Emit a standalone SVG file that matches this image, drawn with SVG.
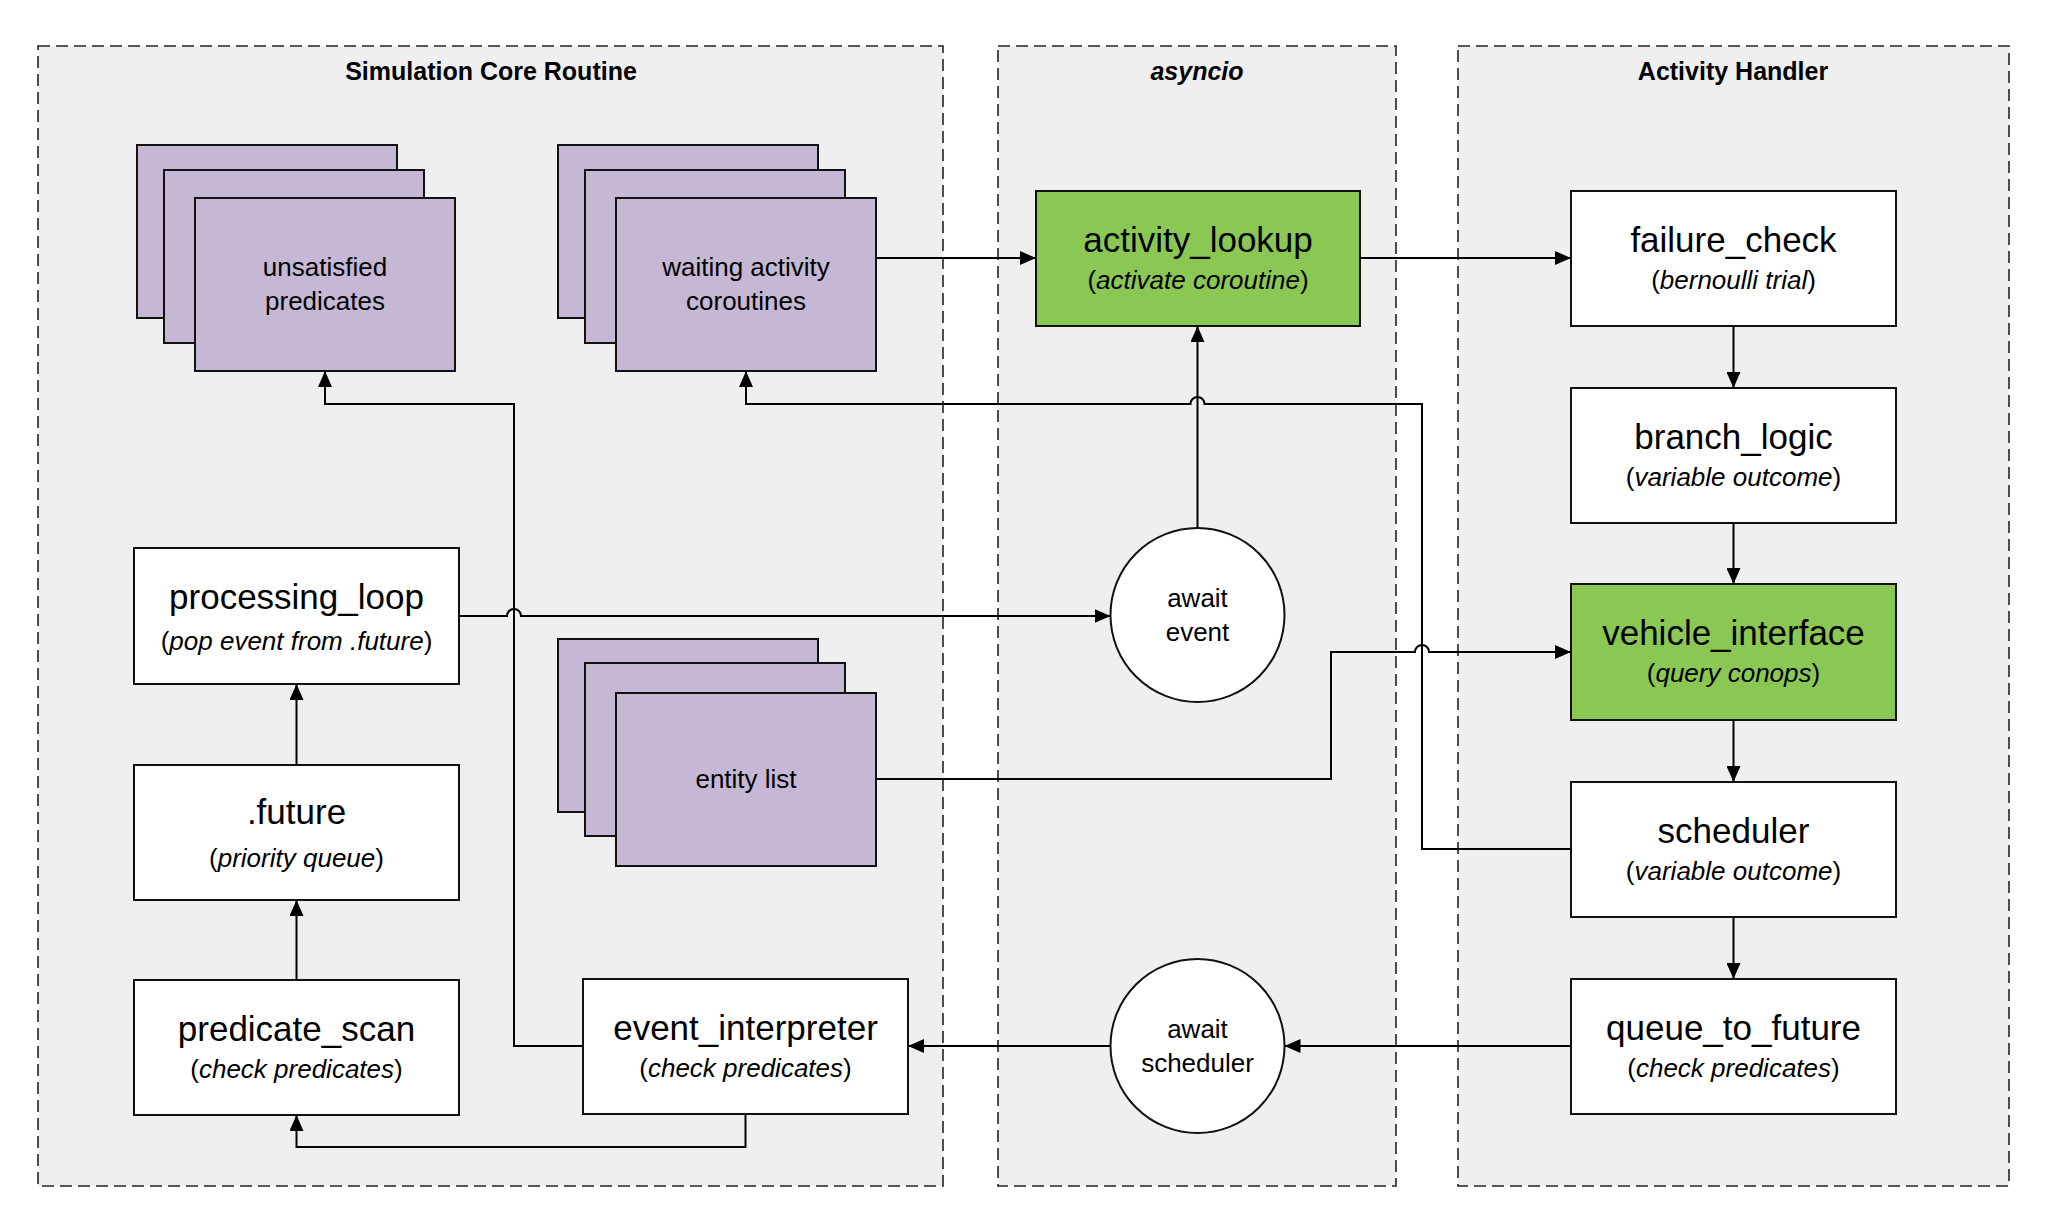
<svg xmlns="http://www.w3.org/2000/svg" width="2050" height="1226" viewBox="0 0 2050 1226">
<defs>
<style>
.cont{fill:#efefef;stroke:#222;stroke-width:1.6;stroke-dasharray:12 6}
.ctitle{font-family:"Liberation Sans",Arial,sans-serif;font-size:25px;font-weight:bold;text-anchor:middle;fill:#000}
.box{fill:#fff;stroke:#111;stroke-width:2}
.green{fill:#8bc853;stroke:#111;stroke-width:2}
.purple{fill:#c5b8d4;stroke:#111;stroke-width:2}
.circ{fill:#fff;stroke:#111;stroke-width:2}
.t1{font-family:"Liberation Sans",Arial,sans-serif;font-size:35px;text-anchor:middle;fill:#000}
.t2{font-family:"Liberation Sans",Arial,sans-serif;font-size:26px;text-anchor:middle;fill:#000}
.it{font-style:italic}
.conn path{fill:none;stroke:#000;stroke-width:2}
</style>
<marker id="arr" markerUnits="userSpaceOnUse" markerWidth="16" markerHeight="14" refX="16" refY="7" orient="auto">
<path d="M0,0 L16,7 L0,14 z" fill="#000"/>
</marker>
</defs>
<rect width="2050" height="1226" fill="#fff"/>

<g id="containers">
<g id="sim-core">
<rect class="cont" x="38" y="46" width="905" height="1140"/>
<text class="ctitle" x="491" y="80">Simulation Core Routine</text>
</g>
<g id="asyncio">
<rect class="cont" x="998" y="46" width="398" height="1140"/>
<text class="ctitle" x="1197" y="80" font-style="italic">asyncio</text>
</g>
<g id="activity-handler">
<rect class="cont" x="1458" y="46" width="551" height="1140"/>
<text class="ctitle" x="1733" y="80">Activity Handler</text>
</g>
</g>

<g id="unsatisfied_predicates">
<rect class="purple" x="137" y="145" width="260" height="173"/>
<rect class="purple" x="164" y="170" width="260" height="173"/>
<rect class="purple" x="195" y="198" width="260" height="173"/>
<text class="t2" x="325" y="276">unsatisfied</text>
<text class="t2" x="325" y="310">predicates</text>
</g>

<g id="waiting_activity_coroutines">
<rect class="purple" x="558" y="145" width="260" height="173"/>
<rect class="purple" x="585" y="170" width="260" height="173"/>
<rect class="purple" x="616" y="198" width="260" height="173"/>
<text class="t2" x="746" y="276">waiting activity</text>
<text class="t2" x="746" y="310">coroutines</text>
</g>

<g id="entity_list">
<rect class="purple" x="558" y="639" width="260" height="173"/>
<rect class="purple" x="585" y="663" width="260" height="173"/>
<rect class="purple" x="616" y="693" width="260" height="173"/>
<text class="t2" x="746" y="788">entity list</text>
</g>

<g id="processing_loop">
<rect class="box" x="134" y="548" width="325" height="136"/>
<text class="t1" x="296.5" y="609">processing_loop</text>
<text class="t2" x="296.5" y="650">(<tspan class="it">pop event from .future</tspan>)</text>
</g>

<g id="future">
<rect class="box" x="134" y="765" width="325" height="135"/>
<text class="t1" x="296.5" y="824">.future</text>
<text class="t2" x="296.5" y="867">(<tspan class="it">priority queue</tspan>)</text>
</g>

<g id="predicate_scan">
<rect class="box" x="134" y="980" width="325" height="135"/>
<text class="t1" x="296.5" y="1041">predicate_scan</text>
<text class="t2" x="296.5" y="1078">(<tspan class="it">check predicates</tspan>)</text>
</g>

<g id="event_interpreter">
<rect class="box" x="583" y="979" width="325" height="135"/>
<text class="t1" x="745.5" y="1040">event_interpreter</text>
<text class="t2" x="745.5" y="1077">(<tspan class="it">check predicates</tspan>)</text>
</g>

<g id="activity_lookup">
<rect class="green" x="1036" y="191" width="324" height="135"/>
<text class="t1" x="1198" y="252">activity_lookup</text>
<text class="t2" x="1198" y="289">(<tspan class="it">activate coroutine</tspan>)</text>
</g>

<g id="await_event">
<circle class="circ" cx="1197.5" cy="615" r="87"/>
<text class="t2" x="1197.5" y="607">await</text>
<text class="t2" x="1197.5" y="641">event</text>
</g>

<g id="await_scheduler">
<circle class="circ" cx="1197.5" cy="1046" r="87"/>
<text class="t2" x="1197.5" y="1038">await</text>
<text class="t2" x="1197.5" y="1072">scheduler</text>
</g>

<g id="failure_check">
<rect class="box" x="1571" y="191" width="325" height="135"/>
<text class="t1" x="1733.5" y="252">failure_check</text>
<text class="t2" x="1733.5" y="289">(<tspan class="it">bernoulli trial</tspan>)</text>
</g>

<g id="branch_logic">
<rect class="box" x="1571" y="388" width="325" height="135"/>
<text class="t1" x="1733.5" y="449">branch_logic</text>
<text class="t2" x="1733.5" y="486">(<tspan class="it">variable outcome</tspan>)</text>
</g>

<g id="vehicle_interface">
<rect class="green" x="1571" y="584" width="325" height="136"/>
<text class="t1" x="1733.5" y="645">vehicle_interface</text>
<text class="t2" x="1733.5" y="682">(<tspan class="it">query conops</tspan>)</text>
</g>

<g id="scheduler">
<rect class="box" x="1571" y="782" width="325" height="135"/>
<text class="t1" x="1733.5" y="843">scheduler</text>
<text class="t2" x="1733.5" y="880">(<tspan class="it">variable outcome</tspan>)</text>
</g>

<g id="queue_to_future">
<rect class="box" x="1571" y="979" width="325" height="135"/>
<text class="t1" x="1733.5" y="1040">queue_to_future</text>
<text class="t2" x="1733.5" y="1077">(<tspan class="it">check predicates</tspan>)</text>
</g>

<g id="connectors" class="conn">
<path d="M876,258 H1036" marker-end="url(#arr)"/>
<path d="M1360,258 H1571" marker-end="url(#arr)"/>
<path d="M1733.5,326 V388" marker-end="url(#arr)"/>
<path d="M1733.5,523 V584" marker-end="url(#arr)"/>
<path d="M1733.5,720 V782" marker-end="url(#arr)"/>
<path d="M1733.5,917 V979" marker-end="url(#arr)"/>
<path d="M1571,1046 H1284.5" marker-end="url(#arr)"/>
<path d="M1110.5,1046 H908" marker-end="url(#arr)"/>
<path d="M583,1046 H514 V404 H325 V371" marker-end="url(#arr)"/>
<path d="M459,616 H507 A7,7 0 0 1 521,616 H1110.5" marker-end="url(#arr)"/>
<path d="M1197.5,528 V326" marker-end="url(#arr)"/>
<path d="M1571,849 H1422 V404 H1204.5 A7,7 0 0 0 1190.5,404 H746 V371" marker-end="url(#arr)"/>
<path d="M876,779 H1331 V652 H1415 A7,7 0 0 1 1429,652 H1571" marker-end="url(#arr)"/>
<path d="M745.5,1114 V1147 H296.5 V1115" marker-end="url(#arr)"/>
<path d="M296.5,980 V900" marker-end="url(#arr)"/>
<path d="M296.5,765 V684" marker-end="url(#arr)"/>
</g>
</svg>
